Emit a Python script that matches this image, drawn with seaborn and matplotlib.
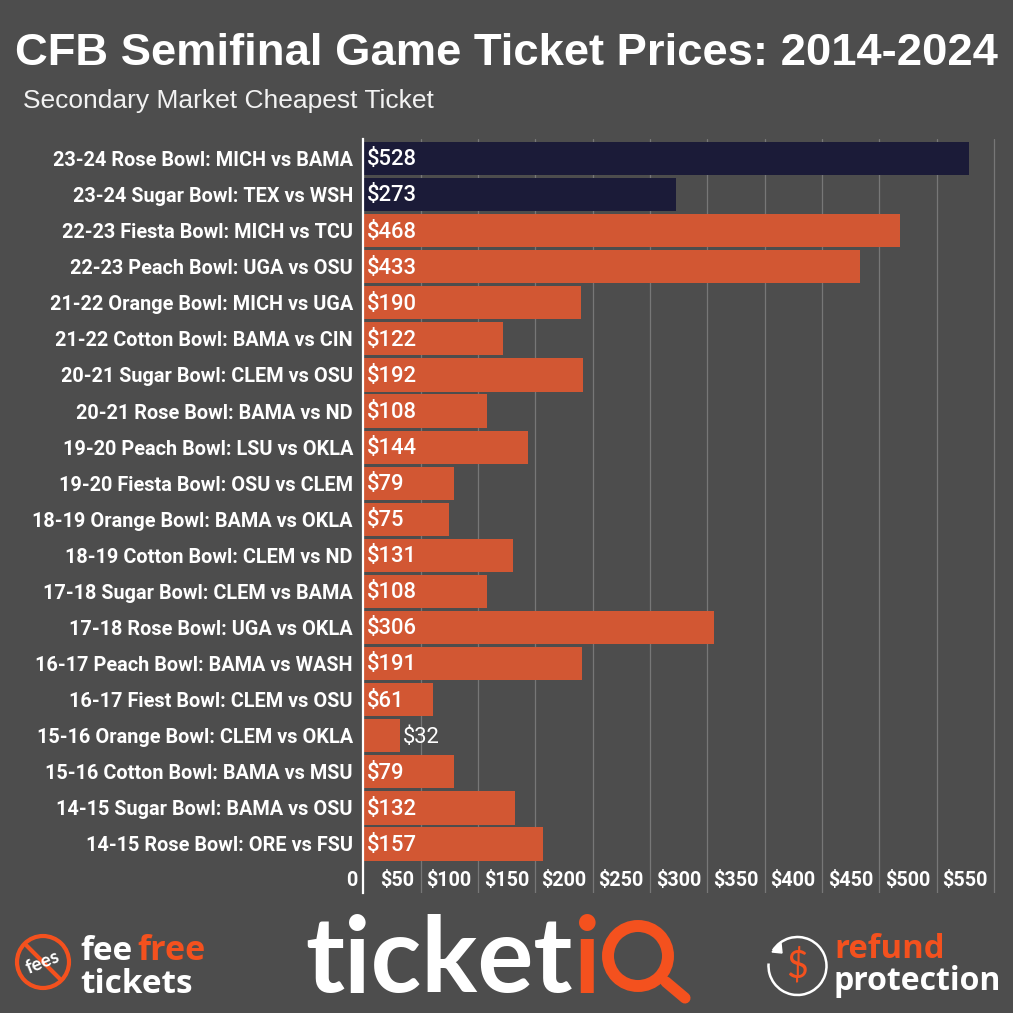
import matplotlib
matplotlib.use("Agg")
import matplotlib.pyplot as plt
import matplotlib.patches as mpatches
from matplotlib.transforms import ScaledTranslation
import pandas as pd
import seaborn as sns

games = [
    "23-24 Rose Bowl: MICH vs BAMA", "23-24 Sugar Bowl: TEX vs WSH",
    "22-23 Fiesta Bowl: MICH vs TCU", "22-23 Peach Bowl: UGA vs OSU",
    "21-22 Orange Bowl: MICH vs UGA", "21-22 Cotton Bowl: BAMA vs CIN",
    "20-21 Sugar Bowl: CLEM vs OSU", "20-21 Rose Bowl: BAMA vs ND",
    "19-20 Peach Bowl: LSU vs OKLA", "19-20 Fiesta Bowl: OSU vs CLEM",
    "18-19 Orange Bowl: BAMA vs OKLA", "18-19 Cotton Bowl: CLEM vs ND",
    "17-18 Sugar Bowl: CLEM vs BAMA", "17-18 Rose Bowl: UGA vs OKLA",
    "16-17 Peach Bowl: BAMA vs WASH", "16-17 Fiest Bowl: CLEM vs OSU",
    "15-16 Orange Bowl: CLEM vs OKLA", "15-16 Cotton Bowl: BAMA vs MSU",
    "14-15 Sugar Bowl: BAMA vs OSU", "14-15 Rose Bowl: ORE vs FSU",
]
prices = [528, 273, 468, 433, 190, 122, 192, 108, 144, 79,
          75, 131, 108, 306, 191, 61, 32, 79, 132, 157]
groups = ["current"] * 2 + ["past"] * 18
x_ticks = [0, 50, 100, 150, 200, 250, 300, 350, 400, 450, 500, 550]
x_labels = ["0", "$50", "$100", "$150", "$200", "$250", "$300", "$350",
            "$400", "$450", "$500", "$550"]

BG = "#4d4d4d"
NAVY = "#1b1b38"
ORANGE = "#d25733"
LOGO = "#f4511e"
W = 1013

sns.set_theme(style="white", rc={"figure.facecolor": BG, "axes.facecolor": BG})
plt.rcParams["font.family"] = ["Roboto", "DejaVu Sans"]

df = pd.DataFrame({"game": games, "price": prices, "group": groups})

fig = plt.figure(figsize=(W / 100, W / 100), dpi=100)
ax = fig.add_axes([363.3 / W, 1 - 892.7 / W, (997.3 - 363.3) / W, (892.7 - 139) / W])

sns.barplot(data=df, y="game", x="price", hue="group", dodge=False, legend=False,
            palette={"current": NAVY, "past": ORANGE}, width=0.92, saturation=1,
            linewidth=0, edgecolor="none", ax=ax, zorder=2)

ax.set_xlim(0, 553)
ax.set_ylim(20.35, -0.54)
ax.set_xlabel("")
ax.set_ylabel("")
sns.despine(ax=ax, top=True, right=True, bottom=True)
ax.spines["left"].set_color("white")
ax.spines["left"].set_linewidth(1.6)
ax.spines["left"].set_zorder(5)

ax.set_xticks(x_ticks)
ax.set_xticklabels(x_labels)
ax.grid(axis="x", color="#777777", linewidth=0.9, zorder=0)
ax.set_axisbelow(True)
ax.tick_params(axis="x", length=0, pad=-15.6, labelsize=14.2, labelcolor="white")
ax.tick_params(axis="y", length=0, pad=7.5, labelsize=14.3, labelcolor="white")
for lab in ax.get_xticklabels():
    lab.set_fontweight("bold")
    lab.set_ha("right")
    lab.set_transform(lab.get_transform() + ScaledTranslation(-6.3 / 100, 0, fig.dpi_scale_trans))
for lab in ax.get_yticklabels():
    lab.set_fontweight("bold")

# value labels, the $32 bar is too short to hold its own
for i, p in enumerate(prices):
    if p < 40:
        ax.annotate(f"${p}", (p, i), xytext=(2.2, -1), textcoords="offset points",
                    color="white", fontsize=15.8, va="center", ha="left", zorder=6)
    else:
        ax.annotate(f"${p}", (0, i), xytext=(2.3, -1), textcoords="offset points",
                    color="white", fontsize=15.8, va="center", ha="left", zorder=6,
                    fontweight="medium")

# overlay in pixel coordinates for title and logos
ov = fig.add_axes([0, 0, 1, 1], zorder=10)
ov.set_xlim(0, W)
ov.set_ylim(W, 0)
ov.axis("off")
ov.patch.set_alpha(0)

ov.text(506, 53, "CFB Semifinal Game Ticket Prices: 2014-2024", color="white",
        family="Liberation Sans", fontweight="bold", fontsize=32.7, ha="center", va="center")
ov.text(23, 101, "Secondary Market Cheapest Ticket", color="#f2f2f2",
        family="Liberation Sans", fontsize=19, ha="left", va="center")

# fee free logo
ov.add_patch(mpatches.Circle((43, 962), 26, fill=False, ec=LOGO, lw=3))
ov.plot([25, 61], [944, 980], color=LOGO, lw=3, solid_capstyle="butt")
ov.text(43, 962, "fees", color="white", family="Lato", fontweight="bold", fontsize=13.5,
        rotation=22, ha="center", va="center")
ov.text(80, 960, "fee", color="white", family="Open Sans", fontweight="bold", fontsize=24, ha="left", va="baseline")
ov.text(137, 960, "free", color=LOGO, family="Open Sans", fontweight="bold", fontsize=24.6, ha="left", va="baseline")
ov.text(80, 993, "tickets", color="white", family="Open Sans", fontweight="bold", fontsize=24, ha="left", va="baseline")

# main logo
ov.text(305, 992, "ticket", color="white", family="Lato", fontweight="bold", fontsize=75.5,
        ha="left", va="baseline")
ov.text(587.5, 992, "i", color=LOGO, family="Lato", fontweight="bold", fontsize=75.5,
        ha="center", va="baseline")
ov.add_patch(mpatches.Circle((638, 956), 30, fill=False, ec=LOGO, lw=8.6))
ov.plot([666, 685], [982, 998], color=LOGO, lw=8, solid_capstyle="round")

# refund logo
ov.add_patch(mpatches.Arc((797.5, 966), 58, 58, theta1=212, theta2=545, ec="white", lw=1.8))
ov.add_patch(mpatches.Polygon([(772, 952), (781, 943), (782, 953)], color="white"))
ov.text(797.5, 966, "$", color=LOGO, family="Lato", fontsize=27, ha="center", va="center")
ov.text(834, 958, "refund", color=LOGO, family="Open Sans", fontweight="bold", fontsize=23.7, ha="left", va="baseline")
ov.text(834, 990, "protection", color="white", family="Open Sans", fontweight="bold", fontsize=23, ha="left", va="baseline")

fig.savefig("out.png", dpi=100, facecolor=BG)
